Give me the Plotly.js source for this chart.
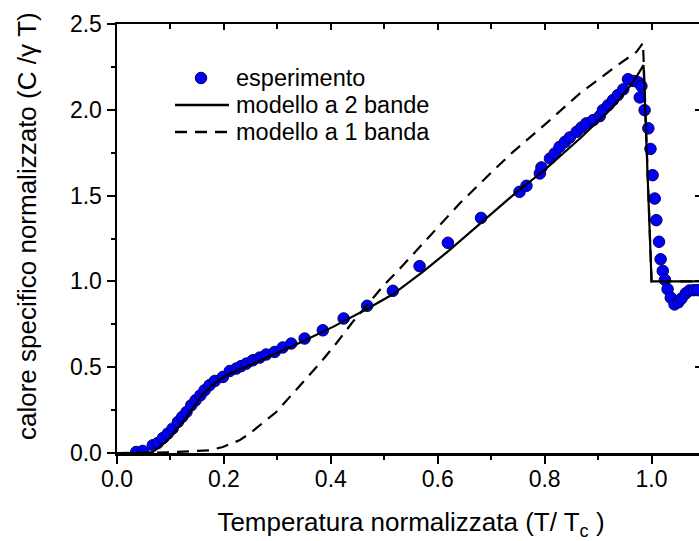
<!DOCTYPE html>
<html>
<head>
<meta charset="utf-8">
<script src="https://cdn.plot.ly/plotly-3.0.1.min.js"></script>
<style>
  html, body { margin: 0; padding: 0; overflow: hidden; background: #fff; }
  #chart { width: 712px; height: 541px; }
</style>
</head>
<body>
<div id="chart"></div>
<script>
// Misura sperimentale del calore specifico normalizzato
const expT = [0.036, 0.048, 0.067, 0.076, 0.086, 0.095, 0.104, 0.114, 0.122, 0.130,
  0.139, 0.147, 0.156, 0.164, 0.173, 0.183, 0.198, 0.211, 0.223, 0.232,
  0.242, 0.254, 0.267, 0.279, 0.295, 0.310, 0.326, 0.351, 0.385, 0.424,
  0.468, 0.516, 0.566, 0.619, 0.681, 0.753, 0.766, 0.791, 0.794, 0.810,
  0.819, 0.828, 0.838, 0.847, 0.860, 0.869, 0.878, 0.891, 0.903, 0.909,
  0.919, 0.928, 0.937, 0.947, 0.956, 0.966, 0.975, 0.981, 0.978, 0.987,
  0.994, 0.998, 1.002, 1.006, 1.009, 1.014, 1.017, 1.021, 1.025, 1.030,
  1.036, 1.043, 1.050, 1.056, 1.064, 1.071, 1.079, 1.087];
const expC = [0.006, 0.012, 0.045, 0.058, 0.087, 0.113, 0.142, 0.181, 0.210, 0.239,
  0.278, 0.307, 0.336, 0.366, 0.395, 0.420, 0.443, 0.478, 0.492, 0.506,
  0.521, 0.540, 0.556, 0.574, 0.589, 0.615, 0.638, 0.667, 0.715, 0.784,
  0.858, 0.945, 1.089, 1.225, 1.370, 1.522, 1.557, 1.629, 1.664, 1.716,
  1.746, 1.784, 1.813, 1.839, 1.872, 1.897, 1.921, 1.940, 1.963, 1.998,
  2.027, 2.057, 2.086, 2.119, 2.178, 2.168, 2.160, 2.138, 2.072, 1.998,
  1.892, 1.772, 1.619, 1.483, 1.357, 1.231, 1.129, 1.061, 1.009, 0.955,
  0.905, 0.866, 0.878, 0.900, 0.930, 0.947, 0.949, 0.949];

// Modello a due bande
const twoBandT = [0.0, 0.050, 0.067, 0.095, 0.130, 0.161, 0.186, 0.211, 0.248, 0.298,
  0.345, 0.404, 0.466, 0.516, 0.572, 0.622, 0.679, 0.741, 0.803, 0.866,
  0.928, 0.966, 0.985, 1.000, 1.100];
const twoBandC = [0.0, 0.0, 0.006, 0.074, 0.210, 0.346, 0.414, 0.463, 0.511, 0.580,
  0.647, 0.735, 0.836, 0.925, 1.055, 1.182, 1.334, 1.503, 1.658, 1.833,
  2.018, 2.163, 2.260, 1.000, 1.000];

// Modello a una banda
const oneBandT = [0.0, 0.100, 0.173, 0.198, 0.229, 0.248, 0.298, 0.342, 0.379, 0.410,
  0.441, 0.498, 0.535, 0.598, 0.641, 0.700, 0.741, 0.803, 0.866, 0.928,
  0.972, 0.984, 1.000, 1.100];
const oneBandC = [0.0, 0.004, 0.016, 0.035, 0.074, 0.113, 0.239, 0.390, 0.521, 0.638,
  0.764, 0.973, 1.094, 1.308, 1.454, 1.634, 1.755, 1.921, 2.096, 2.241,
  2.338, 2.390, 1.000, 1.000];

const seriesNames = ['esperimento', 'modello a 2 bande', 'modello a 1 banda'];

const FONT = 'Liberation Sans, Arial, sans-serif';
const BLUE = 'rgb(0,0,250)';
const NAVY = 'rgb(0,0,90)';
const DASH = '12px,8px';

// plot area in pixels (used to place the hand-drawn legend in paper units)
const M = { l: 117, r: 7, t: 24, b: 88 };
const W = 712, H = 541;
const PW = W - M.l - M.r, PH = H - M.t - M.b;
const px = v => (v - M.l) / PW;
const py = v => (H - M.b - v) / PH;

const traces = [
  {
    x: expT, y: expC, name: seriesNames[0], type: 'scatter', mode: 'markers',
    marker: { size: 11.5, color: BLUE, line: { color: NAVY, width: 1 } }
  },
  {
    x: twoBandT, y: twoBandC, name: seriesNames[1], type: 'scatter', mode: 'lines',
    line: { color: '#000', width: 2.2 }
  },
  {
    x: oneBandT, y: oneBandC, name: seriesNames[2], type: 'scatter', mode: 'lines',
    line: { color: '#000', width: 2.2, dash: DASH }
  },
  // carries the mirrored top/right axes
  { x: [], y: [], xaxis: 'x2', yaxis: 'y2', showlegend: false, hoverinfo: 'skip', type: 'scatter' }
];

// legend: key at left, label at right, one row per series
const legendRows = [78, 105, 132];
const keyX0 = 175, keyX1 = 229, labelX = 236;
const shapes = [
  {
    type: 'circle', xref: 'paper', yref: 'paper',
    x0: px(201 - 5.75), x1: px(201 + 5.75), y0: py(legendRows[0] + 5.75), y1: py(legendRows[0] - 5.75),
    fillcolor: BLUE, line: { color: NAVY, width: 1 }
  },
  {
    type: 'line', xref: 'paper', yref: 'paper',
    x0: px(keyX0), x1: px(keyX1), y0: py(legendRows[1]), y1: py(legendRows[1]),
    line: { color: '#000', width: 2.4 }
  },
  {
    type: 'line', xref: 'paper', yref: 'paper',
    x0: px(keyX0), x1: px(keyX1 + 2), y0: py(legendRows[2]), y1: py(legendRows[2]),
    line: { color: '#000', width: 2.4, dash: DASH }
  }
];
const legendLabels = seriesNames.map((name, i) => ({
  text: name, xref: 'paper', yref: 'paper',
  x: px(labelX - 2), y: py(legendRows[i]), xanchor: 'left', yanchor: 'middle',
  showarrow: false, font: { family: FONT, size: 23.5, color: '#000' }
}));

const baseAxis = {
  showgrid: false, zeroline: false, showline: true,
  linecolor: '#000', linewidth: 2.5, tickcolor: '#000', tickwidth: 2
};

const layout = {
  width: W, height: H,
  margin: M,
  paper_bgcolor: '#fff', plot_bgcolor: '#fff',
  font: { family: FONT, color: '#000', size: 23 },
  showlegend: false,
  xaxis: Object.assign({}, baseAxis, {
    range: [0, 1.1], tick0: 0, dtick: 0.2, tickformat: '.1f',
    ticks: 'outside', ticklen: 8, ticklabelstandoff: -4,
    minor: { dtick: 0.1, ticks: 'outside', ticklen: 4, tickwidth: 2, tickcolor: '#000', showgrid: false },
    tickfont: { family: FONT, size: 23 },
    title: { text: 'Temperatura normalizzata (T/ T<sub>c</sub> )', font: { family: FONT, size: 26 }, standoff: 22 }
  }),
  yaxis: Object.assign({}, baseAxis, {
    range: [0, 2.5], tick0: 0, dtick: 0.5, tickformat: '.1f',
    ticks: 'outside', ticklen: 8,
    minor: { dtick: 0.25, ticks: 'outside', ticklen: 4, tickwidth: 2, tickcolor: '#000', showgrid: false },
    tickfont: { family: FONT, size: 23 }
  }),
  xaxis2: Object.assign({}, baseAxis, {
    overlaying: 'x', side: 'top', anchor: 'y2', range: [0, 1.1], tick0: 0, dtick: 0.2,
    ticks: 'inside', ticklen: 6, showticklabels: false,
    minor: { dtick: 0.1, ticks: 'inside', ticklen: 5, tickwidth: 2, tickcolor: '#000', showgrid: false }
  }),
  yaxis2: Object.assign({}, baseAxis, {
    overlaying: 'y', side: 'right', anchor: 'x2', range: [0, 2.5], tick0: 0, dtick: 0.5,
    ticks: 'inside', ticklen: 10, showticklabels: false,
    minor: { dtick: 0.25, ticks: 'inside', ticklen: 5, tickwidth: 2, tickcolor: '#000', showgrid: false }
  }),
  shapes: shapes,
  annotations: [{
    text: 'calore specifico normalizzato (C /γ T)',
    xref: 'paper', yref: 'paper',
    x: px(27), y: py(226),
    xanchor: 'center', yanchor: 'middle', textangle: -90, showarrow: false,
    font: { family: FONT, size: 26, color: '#000' }
  }].concat(legendLabels)
};

Plotly.newPlot('chart', traces, layout, { staticPlot: true, displayModeBar: false });
</script>
</body>
</html>
